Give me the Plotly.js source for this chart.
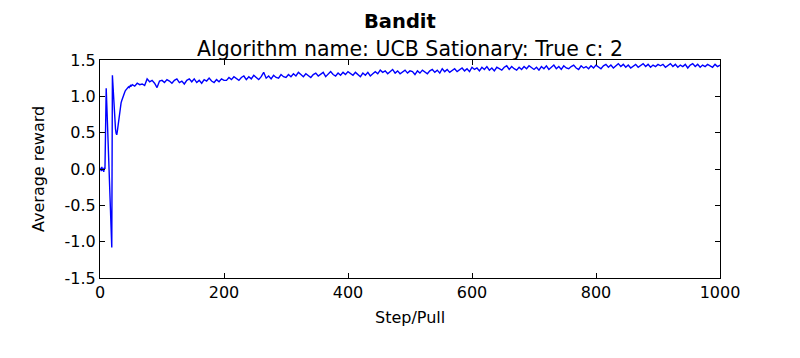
<!DOCTYPE html>
<html>
<head>
<meta charset="utf-8">
<script src="https://cdn.plot.ly/plotly-3.0.1.min.js"></script>
<style>html,body{margin:0;padding:0;background:#fff;}#chart{width:800px;height:358px;}</style>
</head>
<body>
<div id="chart"></div>
<script>
// Early steps 1..50 (every step)
const earlyRewards = [
  0.02,-0.03,0.03,-0.02,0.01,-0.04,0.02,0.00,0.55,1.11,
  0.88,0.64,0.40,0.15,-0.10,-0.35,-0.60,-0.84,-1.08,1.29,
  1.12,0.95,0.80,0.66,0.55,0.49,0.47,0.52,0.60,0.68,
  0.75,0.82,0.87,0.91,0.94,0.97,1.00,1.03,1.05,1.06,
  1.08,1.09,1.10,1.11,1.12,1.13,1.12,1.14,1.15,1.14
];
// Later steps 52, 56, ..., 1000 (every 4 steps)
const laterRewards = [
  1.16,1.14,1.18,1.16,1.17,1.15,1.24,1.20,1.22,1.18,1.12,1.21,1.22,
  1.19,1.23,1.21,1.18,1.22,1.24,1.19,1.21,1.17,1.22,1.24,1.20,1.24,1.19,1.22,1.18,1.23,1.21,1.25,1.21,1.19,1.23,1.20,1.24,1.22,
  1.22,1.26,1.23,1.27,1.25,1.22,1.26,1.28,1.23,1.27,1.24,1.29,1.26,1.23,1.27,1.33,1.25,1.28,1.24,1.29,1.26,1.25,1.30,1.27,1.26,
  1.30,1.27,1.31,1.28,1.33,1.30,1.27,1.31,1.28,1.26,1.30,1.32,1.28,1.31,1.33,1.27,1.30,1.34,1.30,1.28,1.32,1.29,1.33,1.30,1.34,
  1.32,1.29,1.33,1.30,1.27,1.32,1.29,1.33,1.28,1.31,1.34,1.31,1.36,1.33,1.35,1.31,1.34,1.37,1.32,1.35,1.31,1.34,1.36,1.32,1.35,
  1.34,1.30,1.35,1.32,1.36,1.33,1.31,1.35,1.37,1.33,1.36,1.32,1.38,1.34,1.37,1.33,1.36,1.38,1.34,1.37,1.39,1.35,1.38,1.34,1.40,
  1.37,1.39,1.35,1.40,1.37,1.41,1.36,1.39,1.35,1.40,1.38,1.36,1.40,1.42,1.37,1.41,1.38,1.36,1.40,1.37,1.41,1.38,1.42,1.39,1.37,
  1.40,1.36,1.41,1.38,1.42,1.37,1.40,1.43,1.38,1.41,1.37,1.42,1.39,1.38,1.41,1.43,1.39,1.37,1.42,1.39,1.41,1.38,1.42,1.39,1.43,
  1.41,1.38,1.42,1.44,1.40,1.43,1.39,1.42,1.45,1.41,1.44,1.40,1.43,1.39,1.42,1.44,1.40,1.43,1.45,1.41,1.44,1.40,1.43,1.41,1.44,
  1.42,1.44,1.40,1.43,1.45,1.41,1.44,1.40,1.43,1.41,1.44,1.39,1.43,1.45,1.41,1.44,1.40,1.43,1.41,1.44,1.42,1.40,1.44,1.41,1.43
];
const xTickVals = [0, 200, 400, 600, 800, 1000];
const xTickText = ["0", "200", "400", "600", "800", "1000"];
const yTickVals = [-1.5, -1.0, -0.5, 0.0, 0.5, 1.0, 1.5];
const yTickText = ["-1.5", "-1.0", "-0.5", "0.0", "0.5", "1.0", "1.5"];
const mainTitle = "Bandit";
const subTitle = "Algorithm name: UCB Sationary: True c: 2";
const xLabel = "Step/Pull";
const yLabel = "Average reward";

const steps = [];
const rewards = [];
earlyRewards.forEach((v, i) => { steps.push(i + 1); rewards.push(v); });
laterRewards.forEach((v, i) => { steps.push(52 + 4 * i); rewards.push(v); });

const font = "DejaVu Sans, sans-serif";
const trace = {
  x: steps, y: rewards, type: "scatter", mode: "lines",
  line: {color: "#0000ff", width: 1.4}, hoverinfo: "skip"
};
const axisCommon = {
  showgrid: false, zeroline: false, showline: true, linecolor: "#000", linewidth: 1,
  mirror: "allticks", ticks: "inside", ticklen: 5, tickwidth: 1, tickcolor: "#000",
  tickfont: {family: font, size: 16, color: "#000"}, tickmode: "array"
};
const layout = {
  width: 800, height: 358,
  margin: {l: 100, r: 80, t: 60, b: 80},
  paper_bgcolor: "#fff", plot_bgcolor: "#fff",
  showlegend: false,
  xaxis: Object.assign({}, axisCommon, {range: [0, 1000], tickvals: xTickVals, ticktext: xTickText}),
  yaxis: Object.assign({}, axisCommon, {range: [-1.5, 1.5], tickvals: yTickVals, ticktext: yTickText}),
  annotations: [
    {text: "<b>" + mainTitle + "</b>", xref: "paper", yref: "paper", x: 300/620, y: 1.178,
     xanchor: "center", yanchor: "middle", showarrow: false, font: {family: font, size: 19.5, color: "#000"}},
    {text: subTitle, xref: "paper", yref: "paper", x: 0.5, y: 1.052,
     xanchor: "center", yanchor: "middle", showarrow: false, font: {family: font, size: 20.5, color: "#000"}},
    {text: xLabel, xref: "paper", yref: "paper", x: 0.5, y: -39/218,
     xanchor: "center", yanchor: "middle", showarrow: false, font: {family: font, size: 16, color: "#000"}},
    {text: yLabel, xref: "paper", yref: "paper", x: -62/620, y: 0.5, textangle: -90,
     xanchor: "center", yanchor: "middle", showarrow: false, font: {family: font, size: 16, color: "#000"}}
  ]
};
Plotly.newPlot("chart", [trace], layout, {staticPlot: true, displayModeBar: false});
</script>
</body>
</html>
